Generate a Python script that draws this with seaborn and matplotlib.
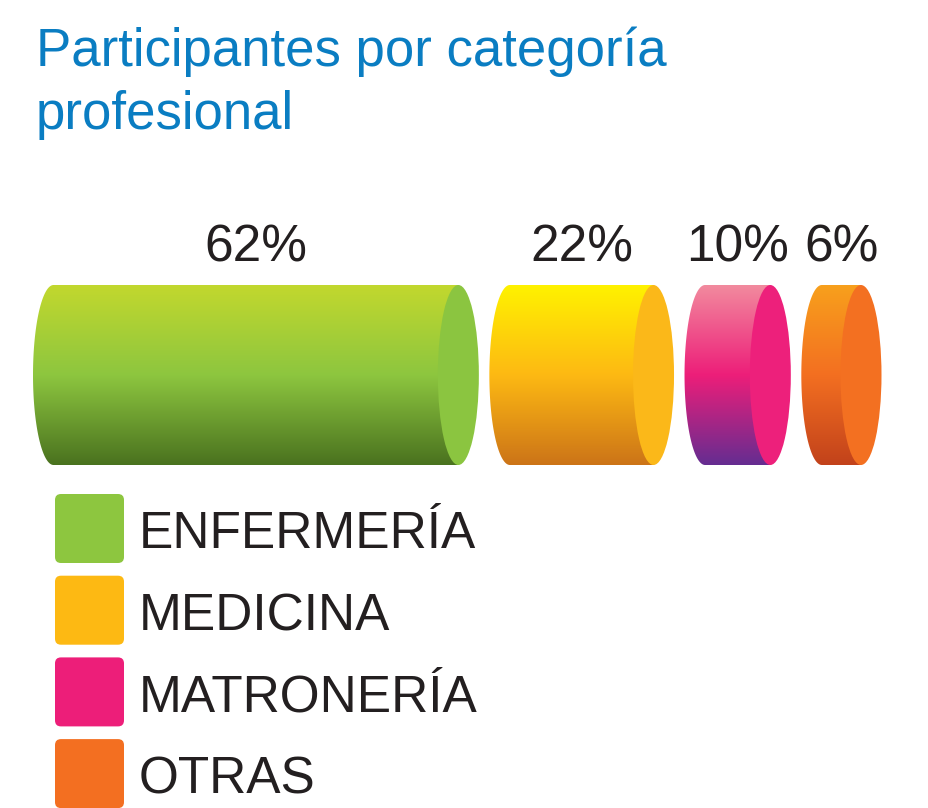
import numpy as np
import pandas as pd
import matplotlib
matplotlib.use("Agg")
import matplotlib.pyplot as plt
from matplotlib.colors import LinearSegmentedColormap
from matplotlib.patches import Ellipse, PathPatch, FancyBboxPatch
from matplotlib.path import Path
import seaborn as sns

# ---- data ----
categories = ["ENFERMERÍA", "MEDICINA", "MATRONERÍA", "OTRAS"]
values = [62, 22, 10, 6]
labels = ["62%", "22%", "10%", "6%"]
title_lines = ["Participantes por categoría", "profesional"]

# colours
grad_top = ["#C2D82E", "#FFF200", "#F28A9E", "#F8A01C"]
grad_mid = ["#8DC63F", "#FDB913", "#ED1E79", "#F36F21"]
grad_bot = ["#4A721F", "#CC7418", "#652D91", "#C2421B"]
cap_col = ["#8BC540", "#FBB819", "#ED207B", "#F37021"]
legend_col = ["#8DC63F", "#FDB913", "#ED1E79", "#F36F21"]
title_col = "#0A7DC2"
text_col = "#231F20"

sns.set_theme(style="white")
plt.rcParams["font.family"] = ["Liberation Sans", "DejaVu Sans"]

W, H = 929, 808
fig = plt.figure(figsize=(W / 100, H / 100), dpi=100)
ax = fig.add_axes([0, 0, 1, 1])

# layout (pixel space)
k = 6.53          # px per percent
a = 20.5          # half width of elliptical caps
gap = 10.5
x_first = 33
y_top, y_bot = 285, 465
yc = (y_top + y_bot) / 2

lefts, body_starts, cap_centers = [], [], []
x = x_first
for v in values:
    lefts.append(x)
    bs = x + a
    body_starts.append(bs)
    cc = bs + v * k
    cap_centers.append(cc)
    x = cc + a + gap

df = pd.DataFrame({"row": ["r"] * len(values), "cat": categories,
                   "length": [v * k for v in values]})
sns.barplot(data=df, x="length", y="row", hue="cat", palette=grad_mid,
            dodge=False, orient="h", legend=False, ax=ax, width=1.0,
            linewidth=0, saturation=1)

bars = [p for p in ax.patches]
for i, p in enumerate(bars):
    p.set_bounds(body_starts[i], y_top, values[i] * k, y_bot - y_top)

ax.set_xlim(0, W)
ax.set_ylim(H, 0)
ax.axis("off")

grad = np.linspace(0, 1, 256).reshape(-1, 1)
for i in range(len(values)):
    cmap = LinearSegmentedColormap.from_list(
        f"g{i}", [(0, grad_top[i]), (0.5, grad_mid[i]), (1, grad_bot[i])])
    bs, cc = body_starts[i], cap_centers[i]
    t = np.linspace(np.pi / 2, 3 * np.pi / 2, 80)
    xs = bs + a * np.cos(t)
    ys = yc - (y_bot - y_top) / 2 * np.sin(t)
    verts = list(zip(xs, ys)) + [(cc, y_bot), (cc, y_top), (bs, y_top)]
    codes = [Path.MOVETO] + [Path.LINETO] * (len(verts) - 2) + [Path.CLOSEPOLY]
    clip = PathPatch(Path(verts, codes), transform=ax.transData,
                     facecolor="none", edgecolor="none")
    ax.add_patch(clip)
    im = ax.imshow(grad, cmap=cmap, extent=(bs - a - 1, cc + 1, y_bot, y_top),
                   origin="upper", aspect="auto", interpolation="bilinear",
                   zorder=3)
    im.set_clip_path(clip)
    ax.add_patch(Ellipse((cc, yc), 2 * a, y_bot - y_top, facecolor=cap_col[i],
                         edgecolor="none", zorder=4))
    ax.text((lefts[i] + cc + a) / 2, 262, labels[i], ha="center",
            va="baseline", fontsize=37, color=text_col, zorder=5)

ax.set_xlim(0, W)
ax.set_ylim(H, 0)

# title
for j, line in enumerate(title_lines):
    ax.text(36, 66 + j * 63, line, ha="left", va="baseline",
            fontsize=38, color=title_col)

# legend
sq = 69
step = 81.7
for i, c in enumerate(categories):
    top = 494 + i * step
    ax.add_patch(FancyBboxPatch((55 + 6, top + 6), sq - 12, sq - 12,
                                boxstyle="round,pad=6", facecolor=legend_col[i],
                                edgecolor="none"))
    ax.text(139, top + sq / 2 + 20, c, ha="left", va="baseline",
            fontsize=37, color=text_col)

fig.savefig("out.png", dpi=100)
